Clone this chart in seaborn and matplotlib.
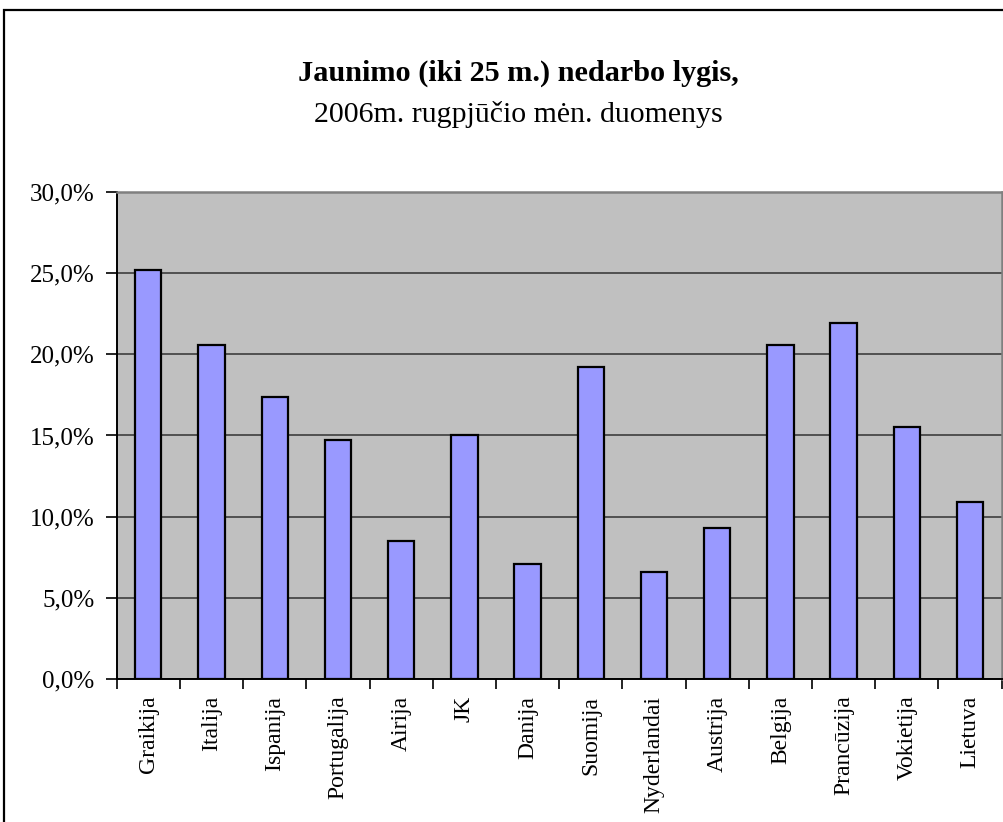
import matplotlib
matplotlib.use("Agg")
import matplotlib.pyplot as plt
import seaborn as sns
import pandas as pd
from matplotlib.ticker import FuncFormatter, FixedLocator
from matplotlib.patches import Rectangle

# Youth (under 25) unemployment rate, August 2006
salys = ["Graikija", "Italija", "Ispanija", "Portugalija", "Airija", "JK", "Danija",
         "Suomija", "Nyderlandai", "Austrija", "Belgija", "Prancūzija", "Vokietija", "Lietuva"]
nedarbas = [25.2, 20.6, 17.4, 14.7, 8.5, 15.0, 7.1, 19.2, 6.6, 9.3, 20.6, 21.9, 15.5, 10.9]
y_ticks = [0, 5, 10, 15, 20, 25, 30]

df = pd.DataFrame({"salis": salys, "nedarbas": nedarbas})

sns.set_theme(style="white")
plt.rcParams["font.family"] = ["Liberation Serif", "DejaVu Serif"]
plt.rcParams["text.color"] = "black"
plt.rcParams["xtick.color"] = "black"
plt.rcParams["ytick.color"] = "black"
plt.rcParams["xtick.labelcolor"] = "black"
plt.rcParams["ytick.labelcolor"] = "black"

fig = plt.figure(figsize=(10.04, 8.22), dpi=100)
ax = fig.add_axes([0.1162, 0.174, 0.8815, 0.5924])
ax.set_facecolor("#C0C0C0")

sns.barplot(data=df, x="salis", y="nedarbas", color="#9999FF", saturation=1,
            edgecolor="black", linewidth=1.6, width=0.4167, ax=ax, zorder=3)

ax.set_xlim(-0.5, len(salys) - 0.5)
ax.set_ylim(0, 30)
ax.set_yticks(y_ticks)
ax.yaxis.set_major_formatter(FuncFormatter(lambda v, p: f"{v:.1f}%".replace(".", ",")))
ax.yaxis.grid(True, color="#333333", linewidth=1.1, zorder=1)
ax.set_axisbelow(True)
ax.set_xlabel("")
ax.set_ylabel("")

# category labels centered, tick marks on category boundaries
ax.set_xticks(range(len(salys)))
ax.set_xticklabels(salys, rotation=90, fontsize=17, va="top", color="black")
ax.xaxis.set_minor_locator(FixedLocator([i - 0.5 for i in range(len(salys) + 1)]))
ax.tick_params(axis="x", which="major", length=0, pad=12)
ax.tick_params(axis="x", which="minor", length=7, width=1.2, color="black", direction="out", bottom=True)
ax.tick_params(axis="y", which="major", length=8, width=1.2, color="black", direction="out",
               left=True, labelsize=18, pad=8, labelcolor="black")

for side in ["left", "bottom"]:
    ax.spines[side].set_color("black")
    ax.spines[side].set_linewidth(1.4)
for side in ["top", "right"]:
    ax.spines[side].set_visible(True)
    ax.spines[side].set_color("#808080")
    ax.spines[side].set_linewidth(1.8)

fig.text(0.5165, 0.911, "Jaunimo (iki 25 m.) nedarbo lygis,", ha="center", va="center",
         fontsize=21.8, fontweight="bold", color="black")
fig.text(0.5165, 0.861, "2006m. rugpjūčio mėn. duomenys", ha="center", va="center",
         fontsize=21.5, color="black")

# chart frame
fig.patches.append(Rectangle((0.004, -0.05), 1.05, 1 - 0.012 + 0.05, transform=fig.transFigure,
                             fill=False, edgecolor="black", linewidth=1.6))

fig.savefig("out.png", dpi=100, facecolor="white")
